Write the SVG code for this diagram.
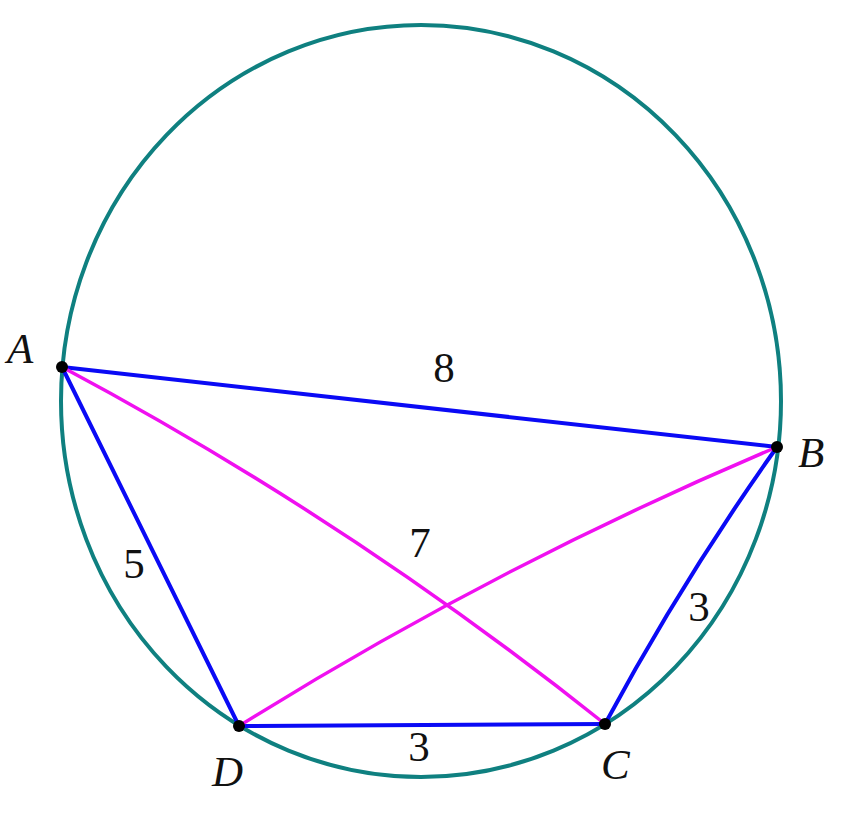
<svg xmlns="http://www.w3.org/2000/svg" width="844" height="836" viewBox="0 0 844 836">
<style>
.circ{fill:none;stroke:#0f8080;stroke-width:4}
.blue{fill:none;stroke:#0a0af5;stroke-width:4;stroke-linecap:round}
.mag{fill:none;stroke:#f010f0;stroke-width:3.5;stroke-linecap:round}
.pt{fill:#000}
.lbl{font-family:"Liberation Serif","Times New Roman",serif;font-style:italic;font-size:43px;fill:#111}
.num{font-family:"Liberation Serif","Times New Roman",serif;font-size:43px;fill:#111;text-anchor:middle}
</style>
<rect width="844" height="836" fill="#fff"/>
<g id="circle"><ellipse class="circ" cx="421" cy="401" rx="360" ry="376"/></g>
<g id="connectors">
<line class="blue" x1="62" y1="367" x2="777" y2="447"/>
<line class="blue" x1="62" y1="367" x2="239" y2="726"/>
<line class="blue" x1="239" y1="726" x2="605" y2="724"/>
<path class="blue" d="M605,724 Q682.5,580 777,447"/>
<path class="mag" d="M62,367 Q350,520.5 605,724"/>
<path class="mag" d="M239,726 Q497,565 777,447"/>
</g>
<g id="A"><circle class="pt" cx="62" cy="367" r="6"/><text class="lbl" x="7" y="363">A</text></g>
<g id="B"><circle class="pt" cx="777" cy="447" r="6"/><text class="lbl" x="798" y="467">B</text></g>
<g id="C"><circle class="pt" cx="605" cy="724" r="6"/><text class="lbl" x="601" y="779">C</text></g>
<g id="D"><circle class="pt" cx="239" cy="726" r="6"/><text class="lbl" x="212" y="786">D</text></g>
<g id="labels">
<text class="num" x="444" y="382">8</text>
<text class="num" x="420" y="557">7</text>
<text class="num" x="134" y="578">5</text>
<text class="num" x="699" y="621">3</text>
<text class="num" x="419" y="761">3</text>
</g>
</svg>
